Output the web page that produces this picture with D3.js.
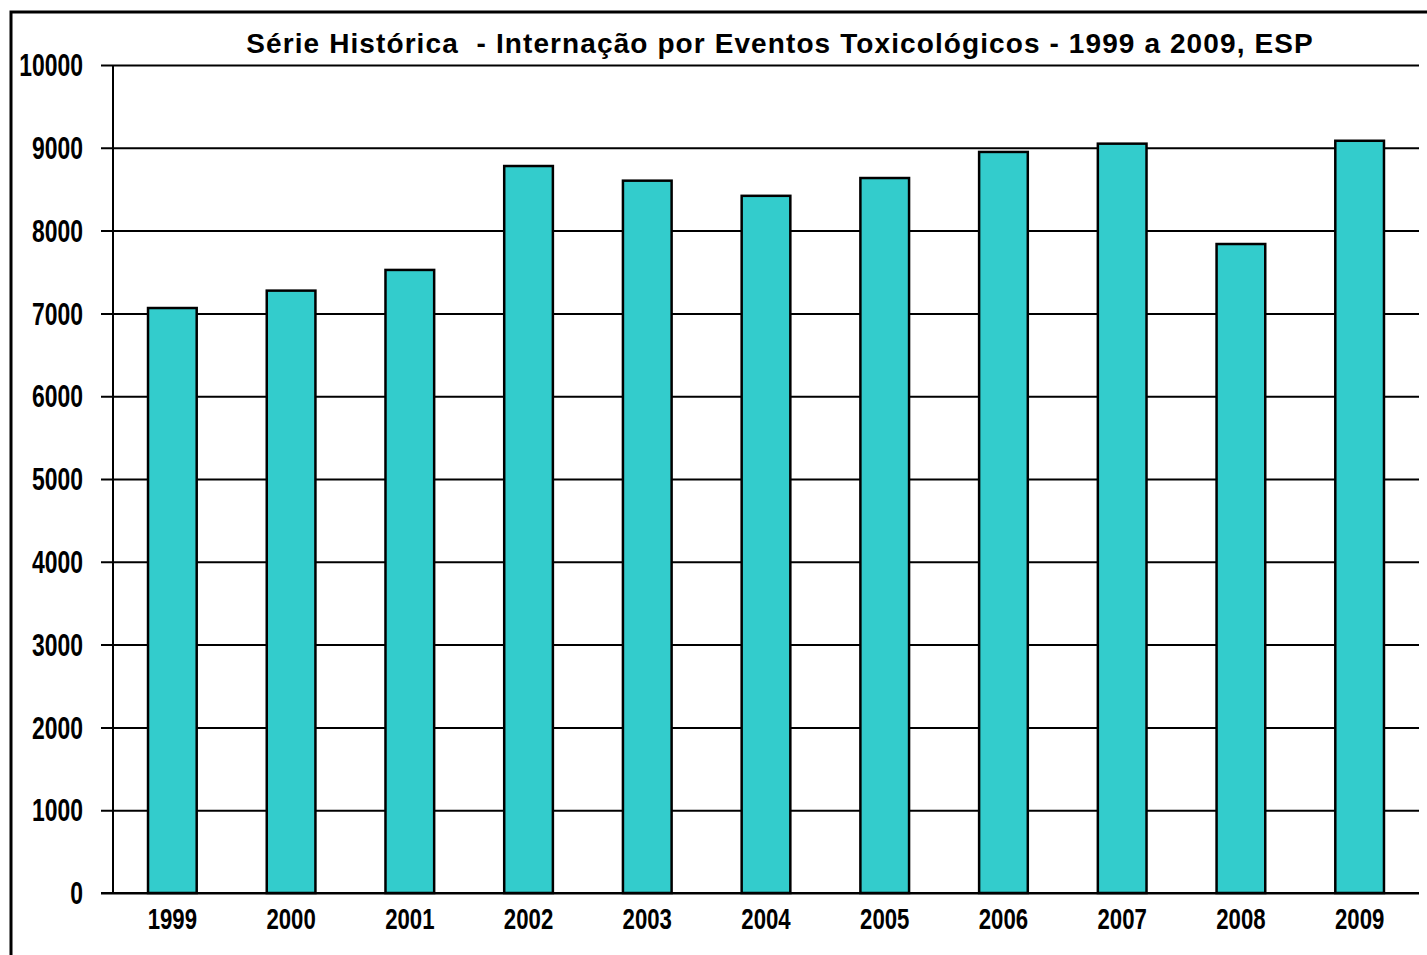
<!DOCTYPE html>
<html>
<head>
<meta charset="utf-8">
<script src="https://cdn.jsdelivr.net/npm/d3@7"></script>
<style>
  body { margin: 0; background: #fff; }
  svg { display: block; font-family: "Liberation Sans", Arial, sans-serif; font-weight: bold; }
</style>
</head>
<body>
<svg id="chart" width="1427" height="955"></svg>
<script>
// data
const years = ["1999", "2000", "2001", "2002", "2003", "2004", "2005", "2006", "2007", "2008", "2009"];
const internacoes = [7065, 7275, 7525, 8780, 8603, 8420, 8635, 8950, 9050, 7838, 9085];
const yTicks = [0, 1000, 2000, 3000, 4000, 5000, 6000, 7000, 8000, 9000, 10000];
const title = "Série Histórica  - Internação por Eventos Toxicológicos - 1999 a 2009, ESP";

const margin = { top: 65, right: 8, bottom: 62, left: 113 };
const W = 1427, H = 955;
const narrow = 0.74; // condensed look of the tick labels

const svg = d3.select("#chart");

// outer frame (right/bottom run off the page)
svg.append("rect")
    .attr("x", 11).attr("y", 12)
    .attr("width", W + 20).attr("height", H + 20)
    .attr("fill", "none").attr("stroke", "#000").attr("stroke-width", 3);

const x = d3.scaleBand()
    .domain(years)
    .range([margin.left, W - margin.right])
    .paddingInner(0.59)
    .paddingOuter(0.295);

const y = d3.scaleLinear()
    .domain([0, 10000])
    .range([H - margin.bottom, margin.top]);

// gridlines + tick marks
svg.append("g")
    .attr("transform", `translate(${margin.left},0)`)
    .call(d3.axisLeft(y).tickValues(yTicks).tickFormat(d3.format("d"))
        .tickSize(-(W - margin.right - margin.left)).tickSizeOuter(0))
    .call(g => g.select(".domain").remove())
    .call(g => g.selectAll(".tick line").attr("stroke", "#000").attr("stroke-width", 2).attr("x1", -12))
    .call(g => g.selectAll(".tick text")
        .attr("fill", "#000")
        .attr("x", null).attr("dy", null)
        .attr("transform", `translate(-30,0) scale(${narrow},1)`)
        .attr("dominant-baseline", "central")
        .style("font-size", "31px")
        .style("font-weight", "bold"));

// left axis line
svg.append("line")
    .attr("x1", margin.left).attr("x2", margin.left)
    .attr("y1", y(10000)).attr("y2", y(0))
    .attr("stroke", "#000").attr("stroke-width", 2);

// bars
svg.append("g")
    .selectAll("rect")
    .data(years)
    .join("rect")
    .attr("x", d => x(d))
    .attr("width", x.bandwidth())
    .attr("y", (d, i) => y(internacoes[i]))
    .attr("height", (d, i) => y(0) - y(internacoes[i]))
    .attr("fill", "#33CCCC")
    .attr("stroke", "#000")
    .attr("stroke-width", 2.5);

// baseline
svg.append("line")
    .attr("x1", margin.left - 12).attr("x2", W - margin.right)
    .attr("y1", y(0)).attr("y2", y(0))
    .attr("stroke", "#000").attr("stroke-width", 2);

// x labels
svg.append("g")
    .attr("transform", `translate(0,${y(0)})`)
    .call(d3.axisBottom(x).tickSize(0))
    .call(g => g.select(".domain").remove())
    .call(g => g.selectAll(".tick text")
        .attr("fill", "#000")
        .attr("y", null).attr("dy", null)
        .attr("transform", `translate(0,26) scale(${narrow},1)`)
        .attr("dominant-baseline", "central")
        .style("font-size", "30px")
        .style("font-weight", "bold"));

// title
svg.append("text")
    .attr("x", 780).attr("y", 53)
    .attr("text-anchor", "middle")
    .style("font-size", "28px")
    .style("letter-spacing", "1.1px")
    .style("white-space", "pre")
    .text(title);
</script>
</body>
</html>
